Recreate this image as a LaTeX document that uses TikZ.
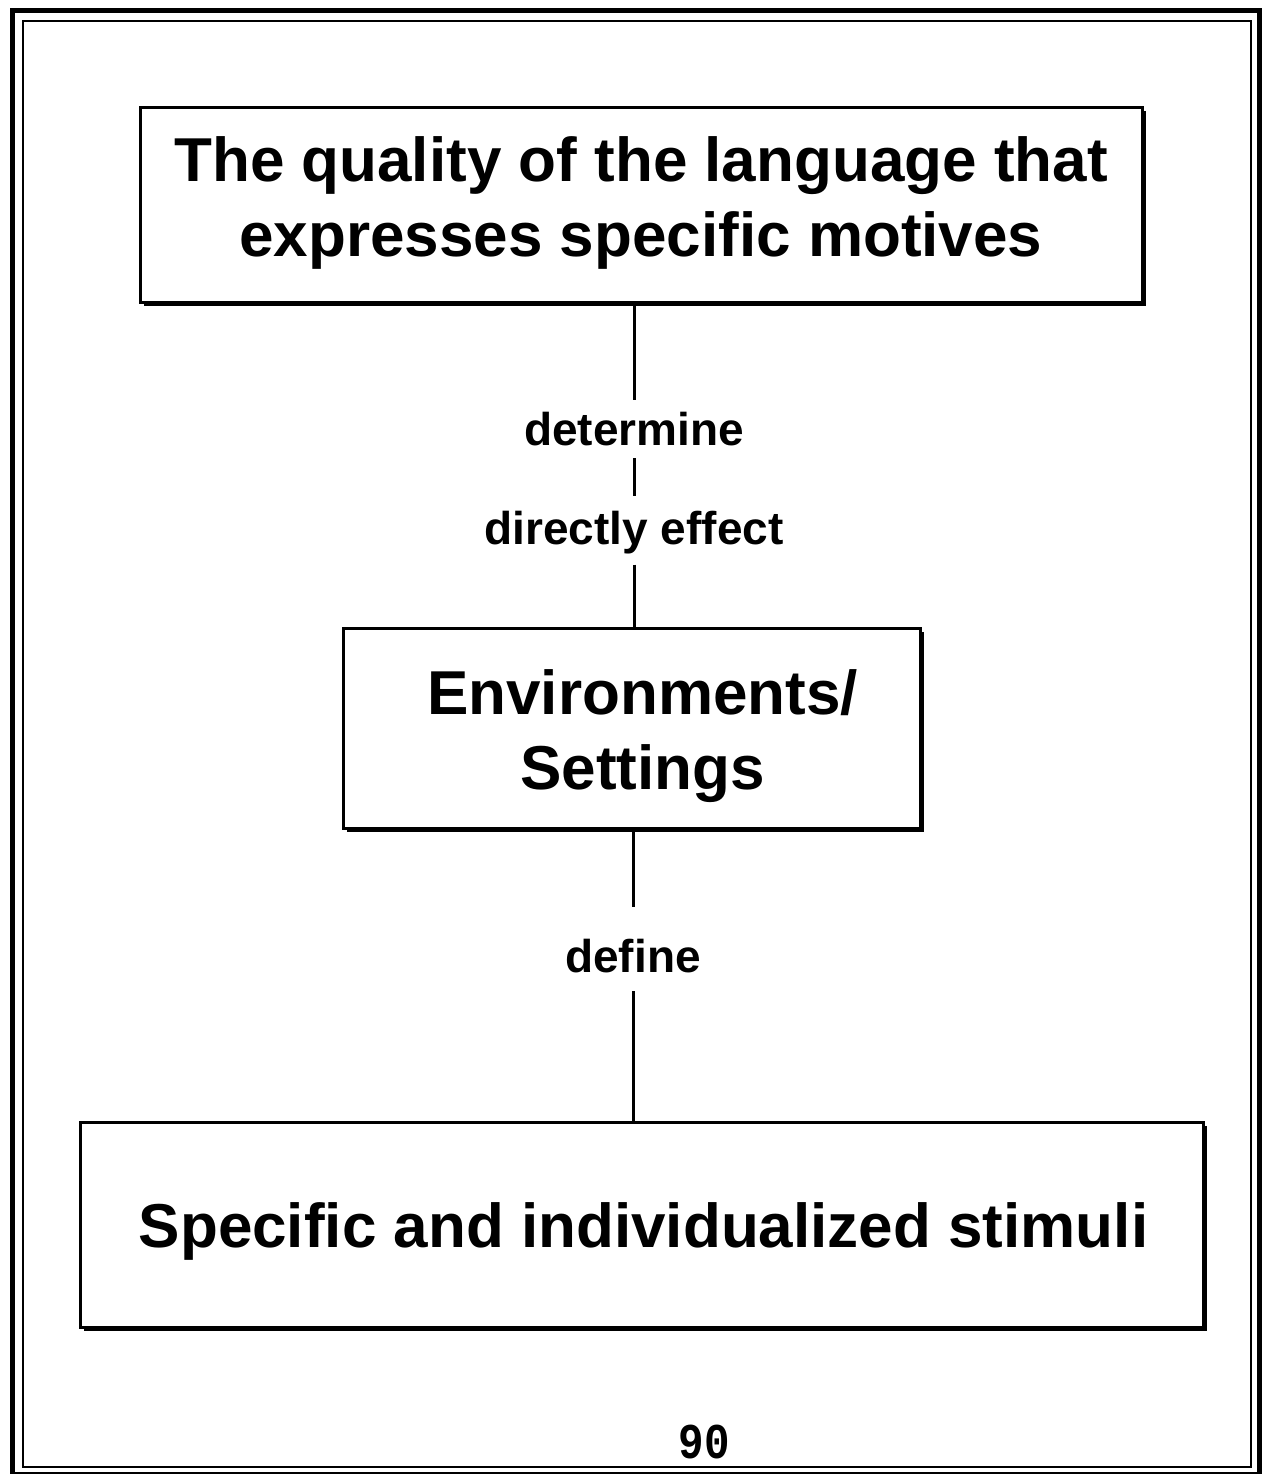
\documentclass[tikz,border=0pt]{standalone}
\usepackage{fontspec}
\setmainfont{Liberation Sans}
\newfontfamily\digitfont{Liberation Mono}
\begin{document}
\begin{tikzpicture}[x=1pt,y=-1pt,
  boxshape/.style={draw=black,line width=3pt,fill=white,inner sep=0pt},
  shadowed/.style={preaction={fill=black,transform canvas={xshift=3.5pt,yshift=-3.5pt}}},
  boxtext/.style={inner sep=0pt,align=center,font=\bfseries\fontsize{62}{75}\selectfont},
  verb/.style={inner sep=0pt,font=\bfseries\fontsize{46}{50}\selectfont},
  conn/.style={line width=3pt}]
\useasboundingbox (0,0) rectangle (1263,1474);
\fill[white] (0,0) rectangle (1263,1474);

% page frame
\draw[line width=5pt] (12,11) rectangle (1259,1474);
\draw[line width=2pt] (23,21) rectangle (1251,1467);

% boxes
\node[boxshape,shadowed,minimum width=1002pt,minimum height=194pt] (quality) at (641,205) {};
\node[boxshape,shadowed,minimum width=577pt,minimum height=200pt] (env) at (631.5,728) {};
\node[boxshape,shadowed,minimum width=1123pt,minimum height=205pt] (stim) at (641.5,1224.5) {};

% box texts (y grows downwards here)
\node[boxtext] (qualitytext) at ([shift={(0,-2)}]quality.center)
  {The quality of the language that\\expresses specific motives};
\node[boxtext] (envtext) at ([shift={(11,8)}]env.center) {Environments/\\Settings};
\node[boxtext] (stimtext) at ([shift={(2,7)}]stim.center) {Specific and individualized stimuli};

% connector labels
\node[verb] (det) at (634,429) {determine};
\node[verb] (eff) at (634,533) {directly effect};
\node[verb] (dfn) at (633,956) {define};

% connectors
\draw[conn] (quality.south -| det) -- ([yshift=12pt]det.north);
\draw[conn] ([yshift=-12pt]det.south) -- ([yshift=15pt]eff.north);
\draw[conn] ([yshift=-10pt]eff.south) -- (env.north -| eff);
\draw[conn] (env.south -| dfn) -- ([yshift=32pt]dfn.north);
\draw[conn] ([yshift=-18pt]dfn.south) -- (stim.north -| dfn);

% page number
\node[inner sep=0pt,anchor=base,font=\digitfont\bfseries\fontsize{50}{50}\selectfont,xscale=0.85] (pnum) at (704,1458) {90};
\end{tikzpicture}
\end{document}
